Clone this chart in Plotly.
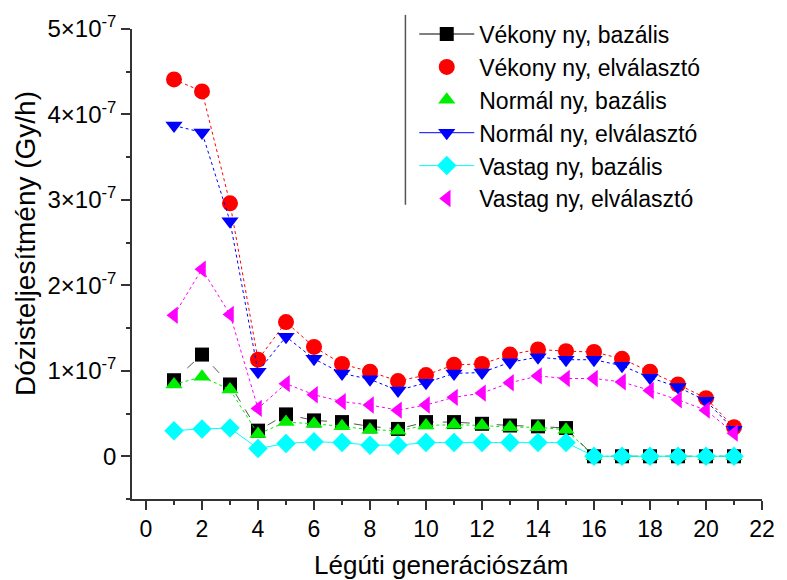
import plotly.graph_objects as go

generations = list(range(1, 22))

vekony_bazalis = [0.89, 1.19, 0.84, 0.30, 0.49, 0.42, 0.40, 0.35, 0.32, 0.40, 0.40,
                  0.38, 0.36, 0.35, 0.33, 0, 0, 0, 0, 0, 0]
vekony_elvalaszto = [4.41, 4.27, 2.96, 1.13, 1.57, 1.28, 1.08, 0.99, 0.88, 0.95, 1.07,
                     1.08, 1.19, 1.25, 1.23, 1.22, 1.14, 0.99, 0.84, 0.68, 0.34]
normal_bazalis = [0.84, 0.93, 0.78, 0.26, 0.40, 0.38, 0.35, 0.31, 0.30, 0.36, 0.37,
                  0.36, 0.34, 0.34, 0.31, 0, 0, 0, 0, 0, 0]
normal_elvalaszto = [3.87, 3.79, 2.75, 0.99, 1.40, 1.14, 0.97, 0.90, 0.77, 0.86, 0.97,
                     0.98, 1.10, 1.16, 1.13, 1.13, 1.06, 0.92, 0.81, 0.65, 0.31]
vastag_bazalis = [0.30, 0.32, 0.33, 0.09, 0.15, 0.17, 0.16, 0.13, 0.13, 0.16, 0.16,
                  0.16, 0.16, 0.16, 0.16, 0, 0, 0, 0, 0, 0]
vastag_elvalaszto = [1.65, 2.19, 1.66, 0.56, 0.85, 0.72, 0.64, 0.60, 0.54, 0.60, 0.69,
                     0.74, 0.86, 0.94, 0.91, 0.91, 0.87, 0.77, 0.66, 0.54, 0.27]
SCALE = 1e-7

names = ["Vékony ny, bazális", "Vékony ny, elválasztó", "Normál ny, bazális",
         "Normál ny, elválasztó", "Vastag ny, bazális", "Vastag ny, elválasztó"]
series = [vekony_bazalis, vekony_elvalaszto, normal_bazalis,
          normal_elvalaszto, vastag_bazalis, vastag_elvalaszto]
colors = ["#000000", "#ff0000", "#00ee00", "#0000ff", "#00ffff", "#ff00ff"]
symbols = ["square", "circle", "triangle-up", "triangle-down", "diamond", "triangle-left"]
sizes = [14, 16, 15, 15, 15, 15]
dashes = ["dash", "dot", "dot", "dot", "solid", "dot"]
line_colors = ["#555555", "#ff0000", "#00ee00", "#0000ff", "#00ffff", "#ff00ff"]
legend_lines = [True, False, False, True, True, False]

xtick_vals = list(range(0, 23, 2))
ytick_vals = [0, 1e-7, 2e-7, 3e-7, 4e-7, 5e-7]
ytick_text = ["0", "1×10<sup>-7</sup>", "2×10<sup>-7</sup>", "3×10<sup>-7</sup>",
              "4×10<sup>-7</sup>", "5×10<sup>-7</sup>"]
x_title = "Légúti generációszám"
y_title = "Dózisteljesítmény (Gy/h)"

FONT = "Liberation Sans, Arial, sans-serif"
AX = "#333333"

fig = go.Figure()
for i in range(6):
    fig.add_trace(go.Scatter(
        x=generations, y=[v * SCALE for v in series[i]],
        mode="lines+markers", showlegend=False,
        line=dict(color=line_colors[i], width=1, dash=dashes[i]),
        marker=dict(symbol=symbols[i], size=sizes[i], color=colors[i], line=dict(width=0)),
    ))
for i in range(6):
    fig.add_trace(go.Scatter(
        x=[None], y=[None], name=names[i], legendgroup=str(i),
        mode="lines+markers" if legend_lines[i] else "markers",
        line=dict(color=colors[i], width=1),
        marker=dict(symbol=symbols[i], size=sizes[i], color=colors[i], line=dict(width=0)),
    ))

fig.update_layout(
    width=787, height=580,
    margin=dict(l=132, r=17, t=29, b=81),
    paper_bgcolor="white", plot_bgcolor="white",
    font=dict(family=FONT, size=22, color="black"),
    showlegend=True,
    legend=dict(x=0.448, y=1.035, xanchor="left", yanchor="top",
                bgcolor="rgba(0,0,0,0)", borderwidth=0,
                font=dict(family=FONT, size=23, color="black"),
                itemwidth=55, traceorder="grouped", tracegroupgap=0),
    xaxis=dict(range=[-0.5, 22], tickmode="array", tickvals=xtick_vals,
               showline=True, linecolor=AX, linewidth=1.5, mirror=False,
               ticks="outside", ticklen=9, tickwidth=1.5, tickcolor=AX,
               minor=dict(tickmode="array", tickvals=list(range(1, 22, 2)),
                          ticks="outside", ticklen=4, tickwidth=1.5, tickcolor=AX),
               showgrid=False, zeroline=False,
               tickfont=dict(family=FONT, size=23, color="black")),
    yaxis=dict(range=[-0.5e-7, 5e-7], tickmode="array", tickvals=ytick_vals, ticktext=ytick_text,
               showline=True, linecolor=AX, linewidth=1.5,
               ticks="outside", ticklen=9, tickwidth=1.5, tickcolor=AX,
               minor=dict(tickmode="array", tickvals=[-0.5e-7, 0.5e-7, 1.5e-7, 2.5e-7, 3.5e-7, 4.5e-7],
                          ticks="outside", ticklen=4, tickwidth=1.5, tickcolor=AX),
               showgrid=False, zeroline=False,
               tickfont=dict(family=FONT, size=24, color="black")),
)

fig.add_annotation(text=x_title, xref="paper", yref="paper", x=0.49, y=-0.14,
                   xanchor="center", yanchor="middle", showarrow=False,
                   font=dict(family=FONT, size=26, color="black"))
fig.add_annotation(text=y_title, xref="paper", yref="paper", x=-0.168, y=0.543,
                   xanchor="center", yanchor="middle", showarrow=False, textangle=-90,
                   font=dict(family=FONT, size=28, color="black"))

fig.add_shape(type="line", xref="paper", yref="paper",
              x0=0.434, x1=0.434, y0=0.626, y1=1.03,
              line=dict(color="#555555", width=1.5))

fig.write_html("out.html")
